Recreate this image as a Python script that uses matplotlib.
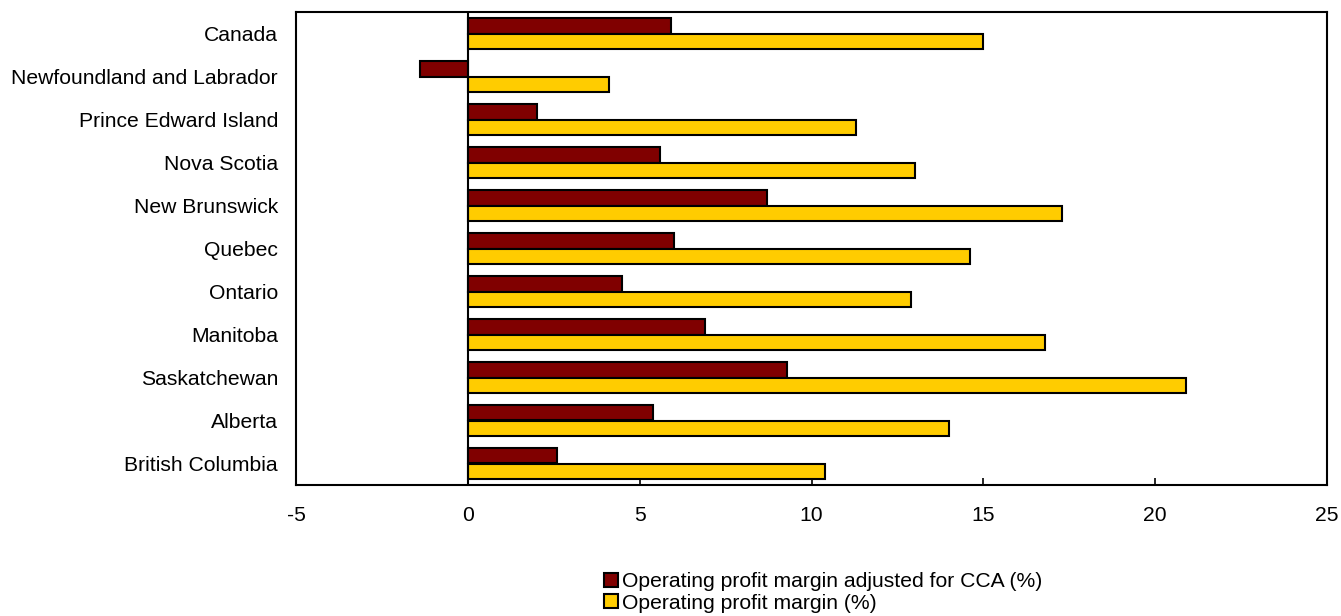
import numpy as np
import matplotlib.pyplot as plt

# Provinces, top to bottom as shown on the chart
provinces = ["Canada", "Newfoundland and Labrador", "Prince Edward Island",
             "Nova Scotia", "New Brunswick", "Quebec", "Ontario", "Manitoba",
             "Saskatchewan", "Alberta", "British Columbia"]

# Operating profit margins (%)
margin_cca = [5.9, -1.4, 2.0, 5.6, 8.7, 6.0, 4.5, 6.9, 9.3, 5.4, 2.6]
margin = [15.0, 4.1, 11.3, 13.0, 17.3, 14.6, 12.9, 16.8, 20.9, 14.0, 10.4]

label_cca = "Operating profit margin adjusted for CCA (%)"
label_margin = "Operating profit margin (%)"

plt.rcParams['font.family'] = ['Liberation Sans', 'DejaVu Sans']
plt.rcParams['font.size'] = 15.2
plt.rcParams['axes.unicode_minus'] = False

fig = plt.figure(figsize=(13.41, 6.16), dpi=100)
ax = fig.add_axes([296 / 1341, 1 - 485 / 616, (1327 - 296) / 1341, (485 - 12) / 616])

y = np.arange(len(provinces))
h = 0.35
ax.barh(y - h / 2, margin_cca, height=h, color='#800000', edgecolor='black',
        linewidth=1.5, label=label_cca, zorder=2)
ax.barh(y + h / 2, margin, height=h, color='#FFCC00', edgecolor='black',
        linewidth=1.5, label=label_margin, zorder=2)

ax.axvline(0, color='black', linewidth=1.5, zorder=3)

ax.set_xlim(-5, 25)
ax.set_ylim(len(provinces) - 0.5, -0.5)
ax.set_xticks(np.arange(-5, 26, 5))
ax.set_yticks(y)
ax.set_yticklabels(provinces)
ax.tick_params(axis='x', direction='in', length=5, width=1.2, pad=15)
ax.tick_params(axis='y', length=0, pad=13)
for s in ax.spines.values():
    s.set_linewidth(1.5)

fig.legend(loc='upper left', bbox_to_anchor=(604 / 1341, 1 - 572 / 616),
           frameon=False, handlelength=0.65, handleheight=0.65,
           handletextpad=0.2, labelspacing=0.12, borderpad=0, borderaxespad=0)

fig.savefig('out.png', dpi=100)
